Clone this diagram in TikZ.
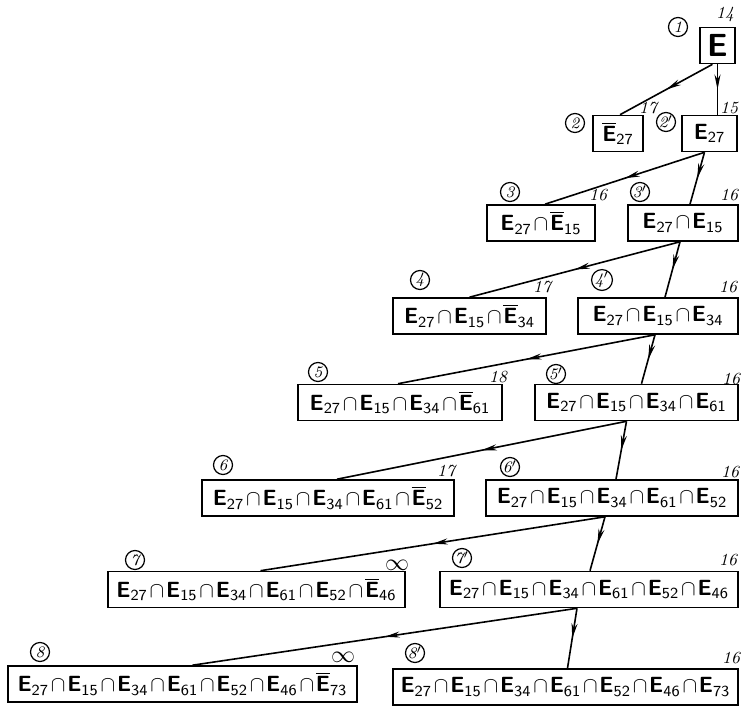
\documentclass[tikz,border=0pt]{standalone}
\usepackage{amsmath,amssymb}
\usepackage{tikz}
\usetikzlibrary{arrows.meta,calc,decorations.markings}
\newcommand{\Ev}[1]{\textsf{\bfseries E}_{\textsf{#1}}}
\newcommand{\Eb}[1]{\overline{\textsf{\bfseries E}}_{\textsf{#1}}}
\newcommand{\icap}{\mskip1.5mu{\cap}\mskip1.5mu}

\begin{document}
\begin{tikzpicture}[x=0.5pt, y=-0.5pt,
  every node/.style={font=\small},
  setnode/.style={draw, thick, minimum height=18pt, inner sep=0pt, font=\fontsize{11}{13}\selectfont},
  tagnode/.style={circle, draw, semithick, minimum size=9.5pt, inner sep=0pt, font=\fontsize{8}{9}\selectfont\itshape},
  costlabel/.style={font=\fontsize{8.5}{9}\selectfont\itshape},
  branch/.style={thick, decoration={markings, mark=at position 0.5 with {\arrow{Stealth[length=7.5pt,width=3pt]}}}, postaction={decorate}}
]
\useasboundingbox (0,0) rectangle (741,707);

%========== row 1 ==========
\node[setnode, minimum width=17.5pt, font=\fontsize{16}{18}\selectfont\sffamily\bfseries] (b1) at (717.5,45.5) {E};
\node[tagnode] (t1) at (678,27) {1};
\node[costlabel] (k1) at (725,14) {14};

%========== row 2 ==========
\node[setnode, minimum width=25pt] (b2) at (618,133.5) {$\Eb{27}$};
\node[setnode, minimum width=27.5pt] (b2p) at (709.5,133.5) {$\Ev{27}$};
\node[tagnode] (t2) at (575,123) {2};
\node[tagnode] (t2p) at (666,122) {2$'$};
\node[costlabel] (k2) at (648,108) {17};
\node[costlabel] (k2p) at (729,108) {15};

%========== row 3 ==========
\node[setnode, minimum width=54pt] (b3) at (541,223) {$\Ev{27}\icap\Eb{15}$};
\node[setnode, minimum width=55pt] (b3p) at (683,223) {$\Ev{27}\icap\Ev{15}$};
\node[tagnode] (t3) at (510,192) {3};
\node[tagnode] (t3p) at (640,192) {3$'$};
\node[costlabel] (k3) at (598,195) {16};
\node[costlabel] (k3p) at (729,195) {16};

%========== row 4 ==========
\node[setnode, minimum width=76.5pt] (b4) at (469.5,316) {$\Ev{27}\icap\Ev{15}\icap\Eb{34}$};
\node[setnode, minimum width=80pt] (b4p) at (658,316) {$\Ev{27}\icap\Ev{15}\icap\Ev{34}$};
\node[tagnode] (t4) at (420,280) {4};
\node[tagnode] (t4p) at (602,280) {4$'$};
\node[costlabel] (k4) at (542,287) {17};
\node[costlabel] (k4p) at (728,287) {16};

%========== row 5 ==========
\node[setnode, minimum width=102pt] (b5) at (400,402.5) {$\Ev{27}\icap\Ev{15}\icap\Ev{34}\icap\Eb{61}$};
\node[setnode, minimum width=101.5pt] (b5p) at (636.5,402.5) {$\Ev{27}\icap\Ev{15}\icap\Ev{34}\icap\Ev{61}$};
\node[tagnode] (t5) at (318,372) {5};
\node[tagnode] (t5p) at (556,374) {5$'$};
\node[costlabel] (k5) at (498,377) {18};
\node[costlabel] (k5p) at (731,379) {16};

%========== row 6 ==========
\node[setnode, minimum width=126pt] (b6) at (328,498) {$\Ev{27}\icap\Ev{15}\icap\Ev{34}\icap\Ev{61}\icap\Eb{52}$};
\node[setnode, minimum width=126pt] (b6p) at (612,498) {$\Ev{27}\icap\Ev{15}\icap\Ev{34}\icap\Ev{61}\icap\Ev{52}$};
\node[tagnode] (t6) at (223,465) {6};
\node[tagnode] (t6p) at (510,467) {6$'$};
\node[costlabel] (k6) at (446,471) {17};
\node[costlabel] (k6p) at (730,472) {16};

%========== row 7 ==========
\node[setnode, minimum width=148.5pt] (b7) at (256.5,589.5) {$\Ev{27}\icap\Ev{15}\icap\Ev{34}\icap\Ev{61}\icap\Ev{52}\icap\Eb{46}$};
\node[setnode, minimum width=149pt] (b7p) at (589,589.5) {$\Ev{27}\icap\Ev{15}\icap\Ev{34}\icap\Ev{61}\icap\Ev{52}\icap\Ev{46}$};
\node[tagnode] (t7) at (135,560) {7};
\node[tagnode] (t7p) at (462,558) {7$'$};
\node[costlabel, font=\fontsize{13}{14}\selectfont] (k7) at (397,565) {$\infty$};
\node[costlabel] (k7p) at (728,560) {16};

%========== row 8 ==========
\node[setnode, minimum width=174.5pt] (b8) at (182.5,684) {$\Ev{27}\icap\Ev{15}\icap\Ev{34}\icap\Ev{61}\icap\Ev{52}\icap\Ev{46}\icap\Eb{73}$};
\node[setnode, minimum width=172.5pt] (b8p) at (565.5,687) {$\Ev{27}\icap\Ev{15}\icap\Ev{34}\icap\Ev{61}\icap\Ev{52}\icap\Ev{46}\icap\Ev{73}$};
\node[tagnode] (t8) at (40,652) {8};
\node[tagnode] (t8p) at (415,653) {8$'$};
\node[costlabel, font=\fontsize{13}{14}\selectfont] (k8) at (343,657) {$\infty$};
\node[costlabel] (k8p) at (731,658) {16};

% branches
\draw[branch] ($(b1.south)+(-5,0)$) -- ($(b2.north)+(2,0)$);
\draw[branch] (b1.south) -- ($(b2p.north)+(8,0)$);
\draw[branch] ($(b2p.south)+(-5,0)$) -- ($(b3.north)+(4,0)$);
\draw[branch] ($(b2p.south)+(-5,0)$) -- ($(b3p.north)+(7,0)$);
\draw[branch] ($(b3p.south)+(-3,0)$) -- (b4.north);
\draw[branch] ($(b3p.south)+(-3,0)$) -- ($(b4p.north)+(7,0)$);
\draw[branch] ($(b4p.south)+(-3,0)$) -- ($(b5.north)+(-2,0)$);
\draw[branch] ($(b4p.south)+(-3,0)$) -- ($(b5p.north)+(5,0)$);
\draw[branch] ($(b5p.south)+(-10,0)$) -- ($(b6.north)+(9,0)$);
\draw[branch] ($(b5p.south)+(-10,0)$) -- ($(b6p.north)+(4,0)$);
\draw[branch] ($(b6p.south)+(-7,0)$) -- ($(b7.north)+(4,0)$);
\draw[branch] ($(b6p.south)+(-7,0)$) -- ($(b7p.north)+(1,0)$);
\draw[branch] ($(b7p.south)+(-12,0)$) -- ($(b8.north)+(10,0)$);
\draw[branch] ($(b7p.south)+(-12,0)$) -- ($(b8p.north)+(2,0)$);

\end{tikzpicture}
\end{document}
